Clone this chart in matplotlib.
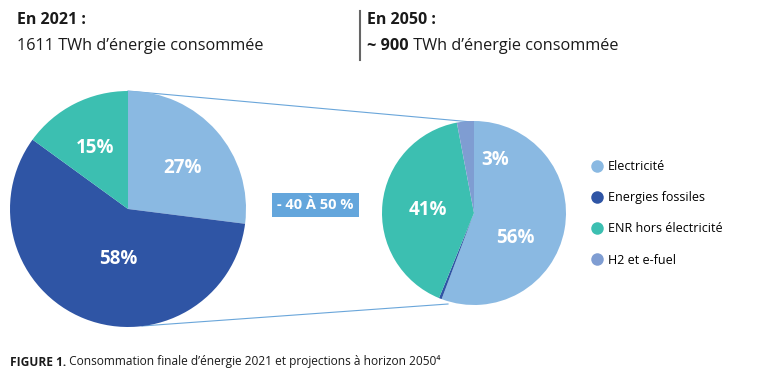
import numpy as np
import matplotlib.pyplot as plt
from matplotlib.lines import Line2D

plt.rcParams['font.family'] = ['Open Sans', 'DejaVu Sans']

# Données
categories = ["Electricité", "Energies fossiles", "ENR hors électricité", "H2 et e-fuel"]
couleurs = ["#8ab9e2", "#2f55a5", "#3cbfb1", "#7f9dd2"]
parts_2021 = [27, 58, 15, 0]
parts_2050 = [56, 0.5, 41, 3]
etiq_2021 = ["27%", "58%", "15%", ""]
etiq_2050 = ["56%", "", "41%", "3%"]
# position des textes : (angle en degrés, distance en fraction du rayon)
pos_2021 = [(37, 0.58), (-101, 0.43), (118, 0.59), None]
pos_2050 = [(-31, 0.52), None, (176, 0.5), (68, 0.62)]

W, H = 767, 392
fig = plt.figure(figsize=(W / 100, H / 100), dpi=100)
ax = fig.add_axes([0, 0, 1, 1])


def py(y):
    # coordonnées pixel (origine en haut) -> axes
    return H - y


def camembert(valeurs, etiquettes, positions, centre, rayon):
    ax.pie(valeurs, colors=couleurs, startangle=90, counterclock=False,
           center=centre, radius=rayon, frame=True, wedgeprops=dict(linewidth=0))
    for lab, p in zip(etiquettes, positions):
        if not lab:
            continue
        a, d = np.deg2rad(p[0]), p[1]
        ax.text(centre[0] + d * rayon * np.cos(a), centre[1] + d * rayon * np.sin(a), lab,
                color="white", fontsize=13.5, fontweight="bold", ha="center", va="center")


c1, r1 = (128, py(209)), 118
c2, r2 = (474, py(213)), 92

# lignes de liaison
ax.plot([128, 472], [py(91), py(122)], color="#6aa6da", lw=0.8, zorder=0)
ax.plot([142, 448], [py(326), py(304)], color="#6aa6da", lw=0.8, zorder=0)

camembert(parts_2021, etiq_2021, pos_2021, c1, r1)
camembert(parts_2050, etiq_2050, pos_2050, c2, r2)

ax.set_xlim(0, W)
ax.set_ylim(0, H)
ax.set_aspect("auto")
ax.axis("off")

# encadré baisse
ax.text(315.5, py(205), "- 40 À 50 %", color="white", fontsize=10.5, fontweight="bold",
        ha="center", va="center",
        bbox=dict(boxstyle="square,pad=0.35", fc="#64a6dc", ec="none"))

# en-têtes
ax.text(17, py(20), "En 2021 :", fontsize=11.5, fontweight="bold", color="#1a1a1a", va="center")
ax.text(17, py(46), "1611 TWh d’énergie consommée", fontsize=11.7, color="#1a1a1a", va="center")
ax.plot([360, 360], [py(11), py(60)], color="#666666", lw=1.5)
ax.text(367, py(20), "En 2050 :", fontsize=11.5, fontweight="bold", color="#1a1a1a", va="center")
t = ax.text(367, py(46), "~ 900", fontsize=11.7, fontweight="bold", color="#1a1a1a", va="center")
ax.annotate(" TWh d’énergie consommée", xy=(1, 0.5), xycoords=t, va="center",
            fontsize=11.7, color="#1a1a1a")

# légende
handles = [Line2D([], [], marker="o", ls="none", markersize=9, markerfacecolor=c,
                  markeredgecolor="none") for c in couleurs]
ax.legend(handles, categories, loc="upper left", bbox_to_anchor=(584 / W, 1 - 154 / H),
          frameon=False, fontsize=9, labelspacing=1.45, handletextpad=0.4,
          handlelength=1.0, borderpad=0)

# légende de figure
f = ax.text(10, py(362), "FIGURE 1.", fontsize=8.6, fontweight="bold", color="#1a1a1a", va="center")
ax.annotate(" Consommation finale d’énergie 2021 et projections à horizon 2050⁴",
            xy=(1, 0.5), xycoords=f, va="center", fontsize=8.6, color="#1a1a1a")

fig.savefig("out.png", dpi=100)
